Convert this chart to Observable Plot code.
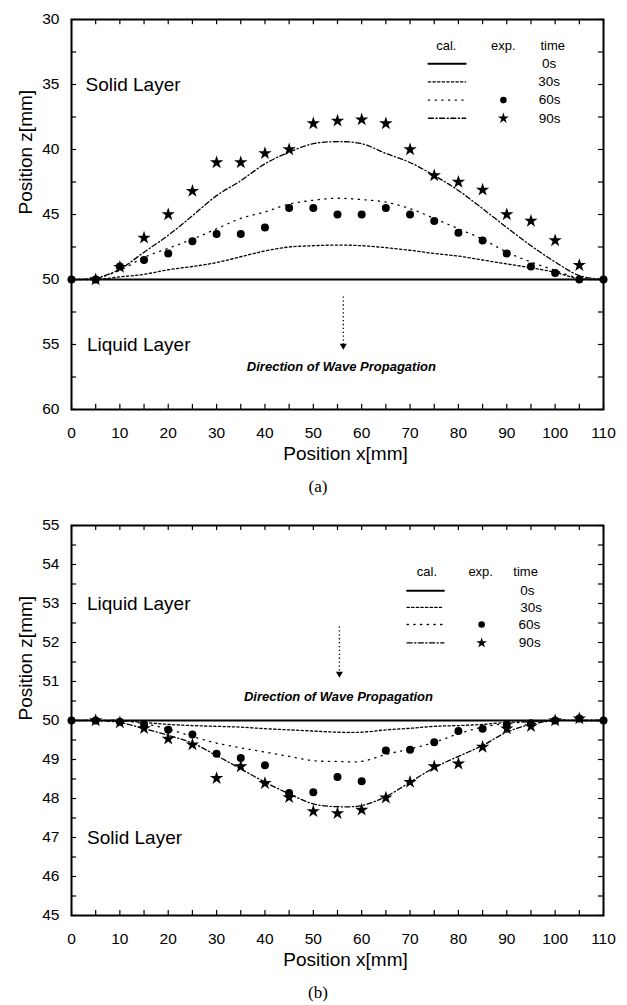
<!DOCTYPE html>
<html><head><meta charset="utf-8">
<script src="https://cdn.jsdelivr.net/npm/d3@7"></script>
<script src="https://cdn.jsdelivr.net/npm/@observablehq/plot@0.6"></script>
<style>
html,body{margin:0;padding:0;background:#fff;}
#wrap{position:relative;width:627px;height:1005px;background:#fff;}
#pa,#pb{position:absolute;left:0;}
#pa{top:0;} #pb{top:505px;}
.cap{position:absolute;left:0;width:636px;text-align:center;font-family:"Liberation Serif","Times New Roman",serif;font-size:17px;line-height:20px;color:#000;}
</style></head><body>
<div id="wrap"><div id="pa"></div><div class="cap" style="top:477px">(a)</div><div id="pb"></div><div class="cap" style="top:983px">(b)</div></div>
<script>
// ---------- data ----------
const xTickLabels = [0,10,20,30,40,50,60,70,80,90,100,110];
const topZTickLabels = [30,35,40,45,50,55,60];
const botZTickLabels = [45,46,47,48,49,50,51,52,53,54,55];
const legendTimes = ["0s","30s","60s","90s"];

// calculated curves: x positions
const calX = [0,5,10,15,20,25,30,35,40,45,50,55,60,65,70,75,80,85,90,95,100,105,110];
const cal0X = [0,110];
const cal0Z = [50,50];
// (a) solid layer above the liquid
const topCal30 = [50,50,49.8,49.6,49.25,49.0,48.7,48.25,47.8,47.5,47.4,47.35,47.4,47.55,47.75,48.0,48.2,48.5,48.8,49.1,49.45,49.95,50];
const topCal60 = [50,49.9,49.3,48.3,47.6,46.9,46.1,45.3,44.8,44.2,43.9,43.75,43.85,44.05,44.55,45.3,46.1,46.9,47.9,48.65,49.3,49.9,50];
const topCal90 = [50,49.9,49.2,47.9,46.6,45.1,43.55,42.4,41.1,40.2,39.55,39.4,39.55,40.3,41.0,42.0,43.15,44.55,46.0,47.4,48.65,49.7,50];
// experimental points
const expX = [0,5,10,15,20,25,30,35,40,45,50,55,60,65,70,75,80,85,90,95,100,105,110];
const topExp60 = [50,50,49.0,48.5,48.0,47.05,46.5,46.5,46.0,44.5,44.5,45.0,45.0,44.5,45.0,45.5,46.4,47.0,48.0,49.0,49.5,50.0,50];
const exp90X = [5,10,15,20,25,30,35,40,45,50,55,60,65,70,75,80,85,90,95,100,105];
const topExp90 = [50,49.05,46.8,45.0,43.2,41.0,41.0,40.3,40.0,38.0,37.8,37.7,38.0,40.0,42.0,42.5,43.1,45.0,45.5,47.0,48.9];
// (b) liquid layer above the solid
const botCal30 = [50,50,50,49.95,49.9,49.87,49.85,49.83,49.79,49.76,49.73,49.7,49.7,49.76,49.8,49.85,49.87,49.9,49.95,49.97,50,50,50];
const botCal60 = [50,50,50,49.92,49.78,49.59,49.42,49.3,49.19,49.08,48.97,48.95,48.95,49.13,49.27,49.44,49.66,49.83,49.92,49.97,50,50,50];
const botCal90 = [50,50,49.95,49.79,49.62,49.42,49.1,48.76,48.42,48.12,47.86,47.79,47.82,48.05,48.42,48.79,49.08,49.36,49.7,49.9,50,50,50];
const botExp60 = [50,50,49.97,49.9,49.76,49.64,49.15,49.04,48.85,48.14,48.16,48.55,48.44,49.23,49.25,49.44,49.73,49.79,49.9,49.93,50.0,50.05,50];
const botExp90 = [50,49.95,49.8,49.53,49.38,48.52,48.82,48.39,48.03,47.67,47.62,47.71,48.02,48.42,48.82,48.89,49.32,49.79,49.85,50.0,50.05];

// ---------- drawing ----------
const FONT = '"Liberation Sans Narrow","Liberation Sans",Arial,sans-serif';
const SANS = '"Liberation Sans",Arial,sans-serif';
const dashes = {"0s": null, "30s": "2.2,2.4", "60s": "1.2,5.5", "90s": "5,2.5,1.2,2.5"};

function panel(cfg) {
  const calSeries = [
    {t: "30s", z: cfg.cal30}, {t: "60s", z: cfg.cal60}, {t: "90s", z: cfg.cal90}
  ];
  const lineMarks = calSeries.map(s => Plot.line(calX.map((x, i) => ({x, z: s.z[i]})), {
    x: "x", y: "z", curve: "catmull-rom", stroke: "#000", strokeWidth: 1.3,
    strokeDasharray: dashes[s.t]
  }));
  const xMinor = d3.range(0, 110.01, 5);
  const zMinor = d3.range(cfg.zDomain[0], cfg.zDomain[1] + 1e-9, cfg.zStep);
  const zLo = cfg.zDomain[0], zHi = cfg.zDomain[1];
  const tl = cfg.tickLen;   // tick length in data units
  const lg = cfg.legend;
  const legendRows = legendTimes.map((t, i) => ({t, z: lg.rows[i]}));
  return Plot.plot({
    width: 627, height: 475,
    marginLeft: 71, marginRight: 24, marginTop: cfg.marginTop, marginBottom: 475 - cfg.marginTop - 390,
    x: {domain: [0, 110]},
    y: {domain: cfg.zDomain, reverse: cfg.reverse},
    style: {fontFamily: FONT, fontSize: "15px", color: "#000", background: "#fff"},
    marks: [
      Plot.axisX(xTickLabels, {tickSize: 0, tickPadding: 17, label: null, fontSize: 15.5, fontFamily: FONT}),
      Plot.axisY(cfg.zTicks, {tickSize: 0, tickPadding: 12, label: null, fontSize: 15.5, fontFamily: FONT}),
      // inward ticks on all four sides
      Plot.ruleX(xMinor, {x: d => d, y1: zLo, y2: zLo + tl.z, stroke: "#000", strokeWidth: 1.2}),
      Plot.ruleX(xMinor, {x: d => d, y1: zHi, y2: zHi - tl.z, stroke: "#000", strokeWidth: 1.2}),
      Plot.ruleY(zMinor, {y: d => d, x1: 0, x2: tl.x, stroke: "#000", strokeWidth: 1.2}),
      Plot.ruleY(zMinor, {y: d => d, x1: 110, x2: 110 - tl.x, stroke: "#000", strokeWidth: 1.2}),
      Plot.frame({stroke: "#000", strokeWidth: 2}),
      // 0s line
      Plot.line(cal0X.map((x, i) => ({x, z: cal0Z[i]})), {x: "x", y: "z", stroke: "#000", strokeWidth: 2.2}),
      ...lineMarks,
      // experimental points
      Plot.dot(expX.map((x, i) => ({x, z: cfg.exp60[i]})), {x: "x", y: "z", r: 4, fill: "#000", symbol: "circle"}),
      Plot.dot(exp90X.map((x, i) => ({x, z: cfg.exp90[i]})), {x: "x", y: "z", r: 4.2, fill: "#000", symbol: "star"}),
      // layer labels
      Plot.text(cfg.layerLabels, {x: "x", y: "z", text: "text", textAnchor: "start", fontSize: 19, fontFamily: SANS, letterSpacing: 0.5, fill: "#000"}),
      // arrow
      Plot.ruleX([cfg.arrow], {x: "x", y1: "z1", y2: "z2", stroke: "#000", strokeWidth: 1.3, strokeDasharray: "1.3,2.6"}),
      Plot.dot([cfg.arrow], {x: "x", y: "z2", symbol: "triangle", r: 2.6, rotate: 180, fill: "#000"}),
      Plot.text([cfg.arrow], {x: "tx", y: "tz", text: () => "Direction of Wave Propagation", fontSize: 13, fontStyle: "italic", fontWeight: "bold", fontFamily: SANS, fill: "#000", letterSpacing: 0.7}),
      // legend
      Plot.text([{x: lg.cal, t: "cal."}, {x: lg.exp, t: "exp."}, {x: lg.time, t: "time"}], {x: "x", y: () => lg.header, text: "t", fontSize: 13, fontFamily: SANS, fill: "#000"}),
      ...legendRows.map(r => Plot.line([{x: lg.x1, z: r.z}, {x: lg.x2, z: r.z}], {x: "x", y: "z", stroke: "#000", strokeWidth: r.t === "0s" ? 2 : 1.4, strokeDasharray: dashes[r.t]})),
      Plot.dot([legendRows[2]], {x: () => lg.mark, y: "z", r: 3.3, fill: "#000"}),
      Plot.dot([legendRows[3]], {x: () => lg.mark, y: "z", r: 3.4, fill: "#000", symbol: "star"}),
      Plot.text(legendRows, {x: (d, i) => lg.tx[i], y: "z", text: "t", textAnchor: "start", fontSize: 13.5, fontFamily: SANS, letterSpacing: 0.6, fill: "#000"}),
      // axis titles
      Plot.text(["Position x[mm]"], {frameAnchor: "bottom", dy: 50, dx: 8, text: d => d, fontSize: 19, fontFamily: SANS, letterSpacing: 0.5, fill: "#000"}),
      Plot.text(["Position z[mm]"], {frameAnchor: "left", dx: -46, rotate: -90, text: d => d, fontSize: 19, fontFamily: SANS, letterSpacing: 0.5, fill: "#000"})
    ]
  });
}

document.getElementById("pa").appendChild(panel({
  marginTop: 19, zDomain: [30, 60], reverse: true, zTicks: topZTickLabels, zStep: 2.5,
  tickLen: {x: 1.05, z: 0.4},
  cal30: topCal30, cal60: topCal60, cal90: topCal90, exp60: topExp60, exp90: topExp90,
  layerLabels: [{x: 2.9, z: 35, text: "Solid Layer"}, {x: 3.2, z: 55, text: "Liquid Layer"}],
  arrow: {x: 56.2, z1: 51.35, z2: 55.1, tx: 55.8, tz: 56.75},
  legend: {header: 32.0, rows: [33.4, 34.8, 36.2, 37.6], x1: 73.8, x2: 81.5, mark: 89.3,
           cal: 77.5, exp: 89.3, time: 99.5, tx: [97.3, 96.5, 96.6, 96.6]}
}));

document.getElementById("pb").appendChild(panel({
  marginTop: 20, zDomain: [45, 55], reverse: false, zTicks: botZTickLabels, zStep: 0.5,
  tickLen: {x: 1.05, z: 0.13},
  cal30: botCal30, cal60: botCal60, cal90: botCal90, exp60: botExp60, exp90: botExp90,
  layerLabels: [{x: 3.2, z: 53, text: "Liquid Layer"}, {x: 3.2, z: 47, text: "Solid Layer"}],
  arrow: {x: 55.4, z1: 52.4, z2: 51.2, tx: 55.2, tz: 50.6},
  legend: {header: 53.8, rows: [53.33, 52.9, 52.46, 51.99], x1: 69.4, x2: 77.0, mark: 84.8,
           cal: 73.5, exp: 84.6, time: 93.9, tx: [92.8, 92.8, 92.4, 92.5]}
}));
</script>
</body></html>
